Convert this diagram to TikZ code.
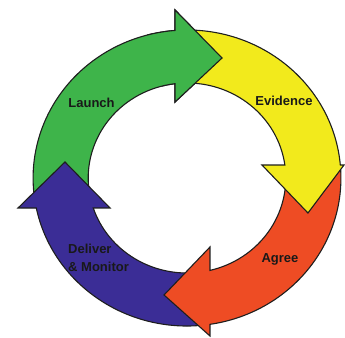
\documentclass[tikz,border=0pt]{standalone}
\usepackage{fontspec}
\setmainfont{Liberation Sans}
\definecolor{cgreen}{RGB}{62,180,74}
\definecolor{cyellow}{RGB}{242,234,28}
\definecolor{cred}{RGB}{238,76,36}
\definecolor{cblue}{RGB}{59,45,150}
\definecolor{cline}{RGB}{30,30,30}
\definecolor{ctext}{RGB}{25,25,25}
\newcommand{\cyclearrow}[7]{%
  \path[arrowshape,fill=#1] (#2:148pt) arc[start angle=#2, end angle=#3, radius=148pt]
    -- #5 -- #6 -- #7 -- (#4:95pt) arc[start angle=#4, end angle=#2, radius=95pt] -- cycle;}
\tikzset{
  arrowshape/.style={draw=cline, line width=1.1pt, line join=miter},
  lbl/.style={font=\bfseries\fontsize{13}{18.5}\selectfont, text=ctext, inner sep=0pt}
}
\begin{document}
\begin{tikzpicture}[x=1pt,y=1pt]
\useasboundingbox (0,0) rectangle (345,337);
\clip (0,0) rectangle (345,337);
\begin{scope}[shift={(187,159)}, xscale=1.04]
  % green (Launch)
  \cyclearrow{cgreen}{190}{94.46}{96.95}{(-11.5,168)}{(33.7,120)}{(-11.5,76)}
  % blue (Deliver & Monitor), its head over the green tail
  \cyclearrow{cblue}{277}{191.7}{198.41}{(-162.5,-30)}{(-117.3,16)}{(-74,-30)}
  % red (Agree), its head over the blue tail
  \cyclearrow{cred}{3}{-81.41}{-76.55}{(22.1,-158)}{(-22.1,-117)}{(22.1,-69)}
  % yellow (Evidence), its head over the red tail
  \cyclearrow{cyellow}{92}{5.04}{7.86}{(151,13)}{(116.3,-35)}{(72.1,13)}
  % green head again, over the yellow tail
  \begin{scope}
    \clip (0,0) -- (60:230pt) arc[start angle=60, end angle=105, radius=230pt] -- cycle;
    \cyclearrow{cgreen}{190}{94.46}{96.95}{(-11.5,168)}{(33.7,120)}{(-11.5,76)}
  \end{scope}
\end{scope}
\node[lbl] (launch) at (91.5,234.5) {Launch};
\node[lbl] (evidence) at (284,236) {Evidence};
\node[lbl] (agree) at (280,78) {Agree};
\node[lbl, align=left, anchor=west] (deliver) at (68,79) {Deliver\\\& Monitor};
\end{tikzpicture}
\end{document}
